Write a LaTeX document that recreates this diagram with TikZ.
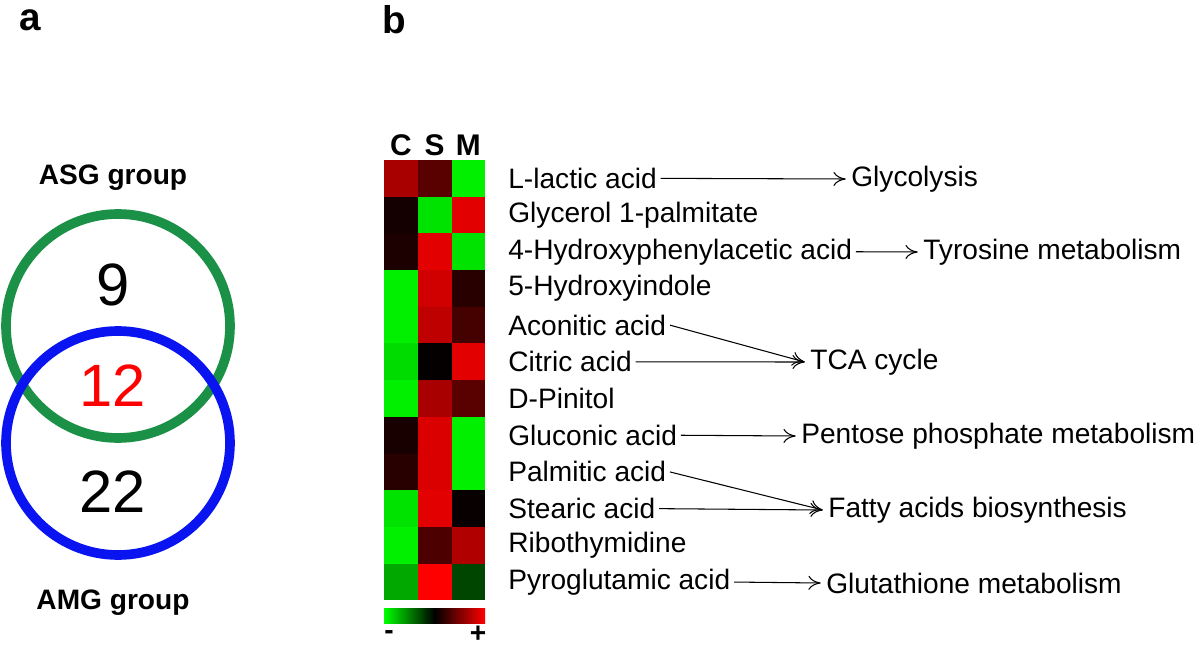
\documentclass[tikz,border=0pt]{standalone}
\usepackage{fontspec}
\setmainfont{Liberation Sans}
\usetikzlibrary{arrows.meta,calc}
\definecolor{ASGGreen}{HTML}{1A9146}
\definecolor{AMGBlue}{HTML}{0A14F0}
\tikzset{
    cell/.style = {minimum width=33.7*0.02cm, minimum height=36.7*0.02cm, inner sep=0pt, draw=none},
    metab/.style = {anchor=west, inner sep=0pt, font=\fontsize{16}{18}\selectfont},
    path/.style = {anchor=west, inner sep=0pt, font=\fontsize{16}{18}\selectfont},
    arrow/.style = {draw, -{To[length=7pt,width=8pt]}, line width=0.6pt},
    big/.style = {font=\fontsize{34}{36}\selectfont},
    grp/.style = {font=\bfseries\fontsize{16}{18}\selectfont},
    panel/.style = {font=\bfseries\fontsize{22}{24}\selectfont}
}
\begin{document}
\begin{tikzpicture}[x=0.02cm, y=-0.02cm]
        \useasboundingbox (0,0) rectangle (1200,648);
        % panel a
        \node[panel] (pa) at (30,20) {a};
        \node[panel] (pb) at (394,20) {b};
        \draw[ASGGreen, line width=5.5pt] (118,326) circle (112);
        \draw[AMGBlue, line width=5.5pt] (118,443) circle (112);
        \node[grp] (asg) at (113,178) {ASG group};
        \node[grp] (amg) at (113,603) {AMG group};
        \node[big] (n9) at (113,285) {9};
        \node[big, red] (n12) at (113,386) {12};
        \node[big] (n22) at (113,492) {22};
        % panel b, heatmap
        \foreach \h [count=\c] in {C,S,M}{
            \node[grp, font=\bfseries\fontsize{17}{18}\selectfont] (h\c) at (401+33.7*\c-33.7,145) {\h};
        }
        \foreach \vc/\vs/\vm [count=\i] in {%
            0.67/0.35/-0.94, 0.08/-0.9/0.9, 0.12/0.9/-0.9,
            -0.95/0.82/0.16, -0.95/0.75/0.27, -0.86/0.03/0.9,
            -0.95/0.67/0.35, 0.1/0.86/-0.95, 0.16/0.86/-0.95,
            -0.9/0.9/0.04, -0.95/0.31/0.7, -0.67/1/-0.27}{
            \foreach \v [count=\c] in {\vc,\vs,\vm}{
                \pgfmathsetmacro{\val}{\v}
                \pgfmathtruncatemacro{\pct}{abs(\val)*100}
                \ifdim \val pt<0pt
                    \node[cell, fill={green!\pct!black}] (c\i\c) at (401+33.7*\c-33.7,160+36.7*\i-18.35) {};
                \else
                    \node[cell, fill={red!\pct!black}] (c\i\c) at (401+33.7*\c-33.7,160+36.7*\i-18.35) {};
                \fi
            }
        }
        \shade[left color=green, right color=red, middle color=black] (384,608) rectangle (485,623);
        \node[font=\bfseries\fontsize{16}{18}\selectfont] (minus) at (389,635) {-};
        \node[font=\bfseries\fontsize{16}{16}\selectfont] (plus) at (478,634) {+};
        % metabolites
        \foreach \t [count=\i] in {L-lactic acid, Glycerol 1-palmitate, 4-Hydroxyphenylacetic acid,
            5-Hydroxyindole, Aconitic acid, Citric acid, D-Pinitol, Gluconic acid, Palmitic acid,
            Stearic acid, Ribothymidine, Pyroglutamic acid}{
            \node[metab] (m\i) at (508,160+36.7*\i-18.35) {\t};
        }
        % pathways
        \node[path] (glyc) at (851,179) {Glycolysis};
        \node[path] (tyr) at (923,252) {Tyrosine metabolism};
        \node[path] (tca) at (810,362) {TCA cycle};
        \node[path] (pent) at (801,436) {Pentose phosphate metabolism};
        \node[path] (fatty) at (828,510) {Fatty acids biosynthesis};
        \node[path] (glut) at (826,583) {Glutathione metabolism};
        \draw[arrow] ([xshift=2pt]m1.east) -- ([xshift=-3pt]glyc.west);
        \draw[arrow] ([xshift=2pt]m3.east) -- ([xshift=-3pt]tyr.west);
        \draw[arrow] ([xshift=2pt]m5.east) -- ([xshift=-3pt]tca.west);
        \draw[arrow] ([xshift=2pt]m6.east) -- ([xshift=-3pt]tca.west);
        \draw[arrow] ([xshift=2pt]m8.east) -- ([xshift=-3pt]pent.west);
        \draw[arrow] ([xshift=2pt]m9.east) -- ([xshift=-3pt]fatty.west);
        \draw[arrow] ([xshift=2pt]m10.east) -- ([xshift=-3pt]fatty.west);
        \draw[arrow] ([xshift=2pt]m12.east) -- ([xshift=-3pt]glut.west);
\end{tikzpicture}
\end{document}
